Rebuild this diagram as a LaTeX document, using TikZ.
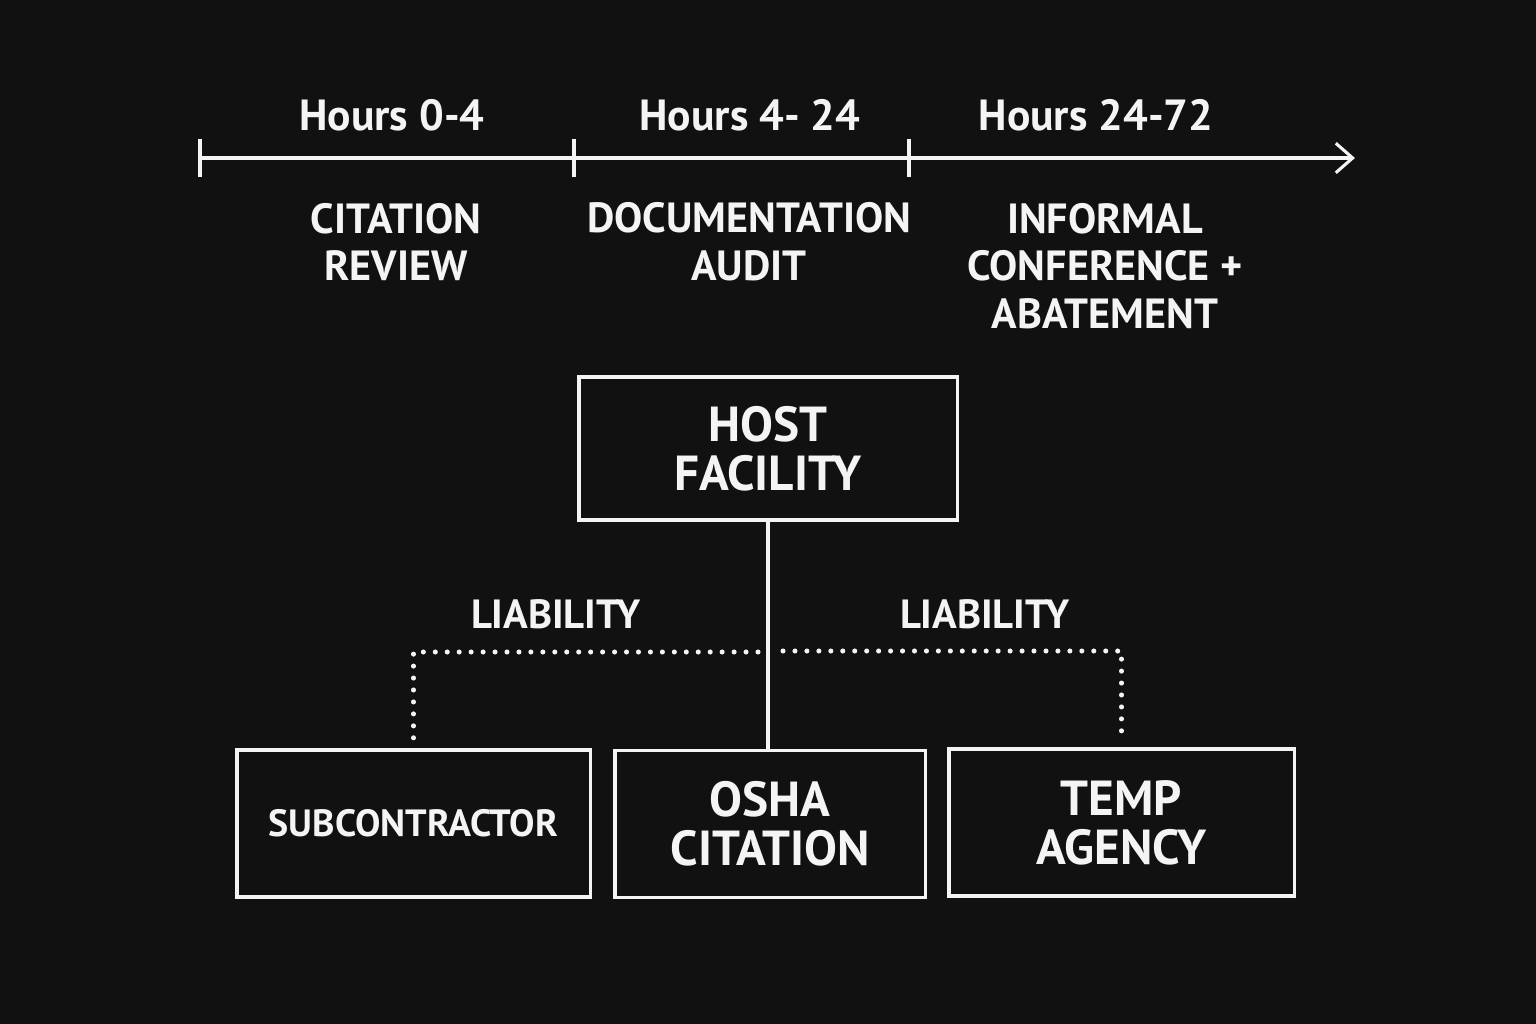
\documentclass[tikz,border=0pt]{standalone}
\usepackage{fontspec}
\setmainfont{PT Sans}
\usetikzlibrary{arrows.meta}
\definecolor{board}{HTML}{111111}
\definecolor{chalk}{HTML}{F4F4F4}
\tikzset{
  chalkline/.style={draw=chalk, line width=2.2pt},
  hours/.style={text=chalk, font=\bfseries\fontsize{31}{34}\selectfont},
  phase/.style={text=chalk, font=\bfseries\fontsize{30}{34}\selectfont, align=center},
  party/.style={chalkline, text=chalk, font=\bfseries\fontsize{35}{35}\selectfont, align=center, inner sep=0pt},
  tag/.style={text=chalk, font=\bfseries\fontsize{29}{30}\selectfont},
  liab/.style={draw=chalk, line width=3.6pt, line cap=round, dash pattern=on 0pt off 8.5pt}
}
\begin{document}
\begin{tikzpicture}[x=0.025cm, y=-0.025cm]
\fill[board] (0,0) rectangle (1536,1024);
\useasboundingbox (0,0) rectangle (1536,1024);

% timeline
\coordinate (t0) at (200,158);
\coordinate (t1) at (574,158);
\coordinate (t2) at (909,158);
\coordinate (tend) at (1355,158);
\draw[chalkline, -{Straight Barb[length=12pt, width=21pt, line width=2.2pt]}] (t0) -- (tend);
\foreach \t in {t0,t1,t2}
  \draw[chalkline] (\t) ++(0,-19) -- ++(0,38);

\node[hours] (h0) at (392,115) {Hours 0-4};
\node[hours] (h1) at (750,115) {Hours 4- 24};
\node[hours] (h2) at (1096,115) {Hours 24-72};

\node[phase] (p0) at (396,242) {CITATION\\REVIEW};
\node[phase] (p1) at (749,242) {DOCUMENTATION\\AUDIT};
\node[phase] (p2) at (1105,266) {INFORMAL\\CONFERENCE +\\ABATEMENT};

% parties
\node[party, minimum width=9.45cm, minimum height=3.575cm] (host) at (768,448.5) {HOST\\FACILITY};
\node[party, minimum width=8.825cm, minimum height=3.675cm, font=\bfseries\fontsize{27}{30}\selectfont] (sub) at (413.5,823.5) {SUBCONTRACTOR};
\node[party, minimum width=7.75cm, minimum height=3.675cm] (osha) at (770,824) {OSHA\\CITATION};
\node[party, minimum width=8.625cm, minimum height=3.675cm] (temp) at (1121.5,822.5) {TEMP\\AGENCY};

\draw[chalkline] (host.south) -- (host.south |- osha.north);

% liability links
\coordinate (lj) at (758,652);
\coordinate (rj) at (783,651);
\draw[liab, shorten >=5pt] (lj) -| (sub.north);
\draw[liab, shorten >=5pt] (rj) -| (temp.north);
\node[tag] (liabL) at (556,614) {LIABILITY};
\node[tag] (liabR) at (985,614) {LIABILITY};
\end{tikzpicture}
\end{document}
